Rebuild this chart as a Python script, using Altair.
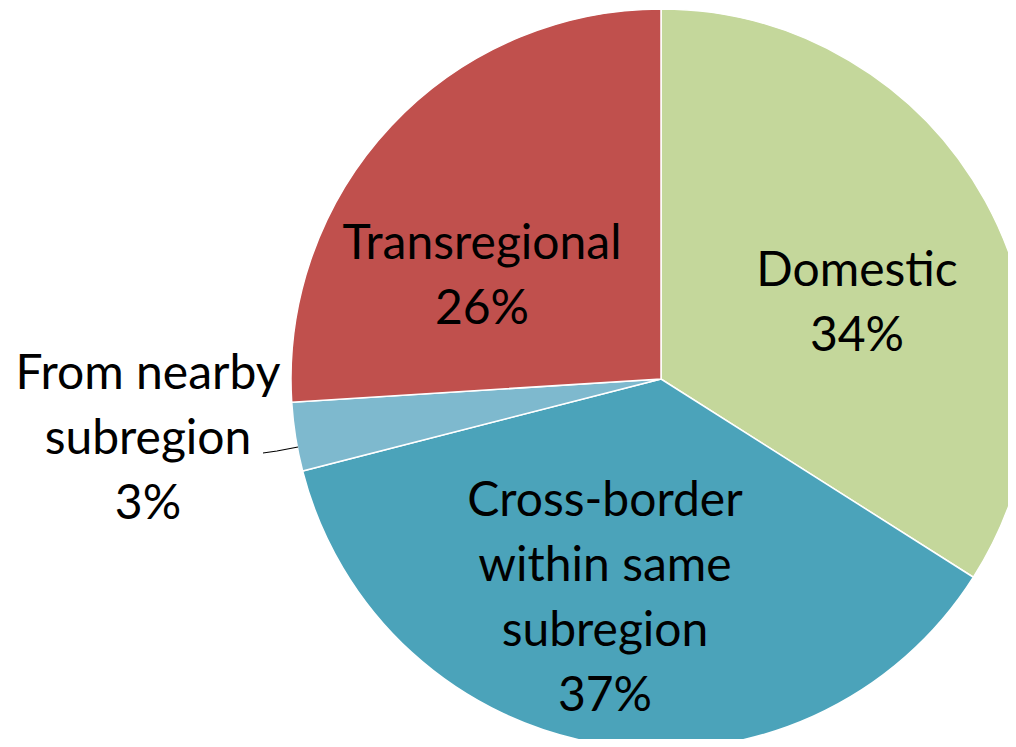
import altair as alt
import pandas as pd

categories = ["Domestic", "Cross-border within same subregion", "From nearby subregion", "Transregional"]
shares = [34, 37, 3, 26]
colors = ["#C4D79B", "#4BA3BA", "#7EB9CE", "#C0504D"]

# label layout: lines of each label, centre x and first-line y (pixels within view)
label_lines = [["Domestic", "34%"],
               ["Cross-border", "within same", "subregion", "37%"],
               ["From nearby", "subregion", "3%"],
               ["Transregional", "26%"]]
label_x = [849, 597, 140, 474]
label_y = [264, 494, 367, 237]
LINE_STEP = 65

CX, CY, R = 653, 371, 370
FONT = "Lato"
FS = 48

df = pd.DataFrame({"cat": categories, "share": shares, "order": list(range(len(categories)))})

pie = alt.Chart(df).mark_arc(outerRadius=R, stroke="white", strokeWidth=1.5).encode(
    theta=alt.Theta("share:Q", stack=True),
    order=alt.Order("order:Q"),
    color=alt.Color("cat:N", scale=alt.Scale(domain=categories, range=colors), legend=None),
    x=alt.value(CX), y=alt.value(CY),
)

rows = []
for lines, lx, ly in zip(label_lines, label_x, label_y):
    for i, t in enumerate(lines):
        rows.append({"text": t, "lx": lx, "ly": ly + i * LINE_STEP})
lab = pd.DataFrame(rows)
labels = alt.Chart(lab).mark_text(font=FONT, fontSize=FS, color="black",
                                  align="center", baseline="middle").encode(
    x=alt.X("lx:Q", scale=None), y=alt.Y("ly:Q", scale=None), text="text:N"
)

leader = pd.DataFrame({"px": [255, 269, 290], "py": [445, 443, 439], "o": [0, 1, 2]})
line = alt.Chart(leader).mark_line(color="black", strokeWidth=1.2).encode(
    x=alt.X("px:Q", scale=None), y=alt.Y("py:Q", scale=None), order="o:Q"
)

chart = alt.layer(pie, line, labels).properties(
    width=1000, height=731, padding=0, autosize=alt.AutoSizeParams(type="none")
).configure_view(stroke=None)

chart.save("out.html", embed_options={"renderer": "svg", "actions": False})
